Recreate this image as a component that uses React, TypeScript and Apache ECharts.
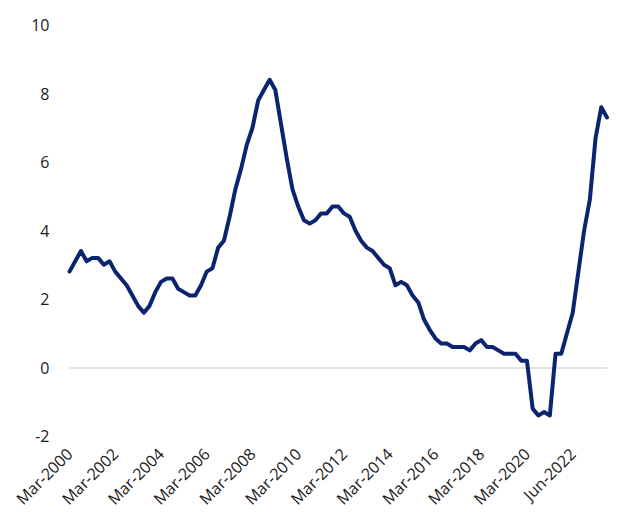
import React, { useEffect, useRef } from "react";
import * as echarts from "echarts";

// Quarterly values, Mar-2000 onwards
const values: number[] = [
  2.8, 3.1, 3.4, 3.1, 3.2, 3.2, 3.0, 3.1, 2.8, 2.6,
  2.4, 2.1, 1.8, 1.6, 1.8, 2.2, 2.5, 2.6, 2.6, 2.3,
  2.2, 2.1, 2.1, 2.4, 2.8, 2.9, 3.5, 3.7, 4.4, 5.2,
  5.8, 6.5, 7.0, 7.8, 8.1, 8.4, 8.1, 7.1, 6.1, 5.2,
  4.7, 4.3, 4.2, 4.3, 4.5, 4.5, 4.7, 4.7, 4.5, 4.4,
  4.0, 3.7, 3.5, 3.4, 3.2, 3.0, 2.9, 2.4, 2.5, 2.4,
  2.1, 1.9, 1.4, 1.1, 0.85, 0.7, 0.7, 0.6, 0.6, 0.6,
  0.5, 0.7, 0.8, 0.6, 0.6, 0.5, 0.4, 0.4, 0.4, 0.2,
  0.2, -1.2, -1.4, -1.3, -1.4, 0.4, 0.4, 1.0, 1.6, 2.8,
  4.0, 4.9, 6.7, 7.6, 7.3,
];

const quarterMonths = ["Mar", "Jun", "Sep", "Dec"];
const startYear = 2000;
const skippedQuarter = "Mar-2022"; // axis labels jump from Mar-2020 to Jun-2022

function buildCategories(count: number): string[] {
  const out: string[] = [];
  let q = 0;
  while (out.length < count) {
    const label = `${quarterMonths[q % 4]}-${startYear + Math.floor(q / 4)}`;
    q++;
    if (label === skippedQuarter) continue;
    out.push(label);
  }
  return out;
}

const categories = buildCategories(values.length);

const yMin = -2;
const yMax = 10;
const yStep = 2;

export default function App() {
  const ref = useRef<HTMLDivElement>(null);

  useEffect(() => {
    if (!ref.current) return;
    const chart = echarts.init(ref.current, undefined, { renderer: "svg" });
    chart.setOption({
      animation: false,
      backgroundColor: "#ffffff",
      grid: { left: 69.5, right: 31, top: 25, bottom: 93, containLabel: false },
      xAxis: {
        type: "category",
        data: categories,
        boundaryGap: false,
        axisLine: { show: false },
        axisTick: { show: false },
        splitLine: { show: false },
        axisLabel: {
          interval: 7,
          rotate: 45,
          margin: 15,
          color: "#1a1a1a",
          fontSize: 16,
          fontFamily: "Open Sans",
        },
      },
      yAxis: {
        type: "value",
        min: yMin,
        max: yMax,
        interval: yStep,
        axisLine: { show: false },
        axisTick: { show: false },
        splitLine: { show: false },
        axisLabel: {
          margin: 20,
          color: "#1a1a1a",
          fontSize: 16,
          fontFamily: "Open Sans",
        },
      },
      series: [
        {
          type: "line",
          data: values,
          symbol: "none",
          lineStyle: { color: "#0a2470", width: 4, join: "round", cap: "round" },
          itemStyle: { color: "#0a2470" },
          z: 3,
          markLine: {
            silent: true,
            symbol: "none",
            label: { show: false },
            lineStyle: { color: "#d9d9d9", width: 1.5, type: "solid" },
            data: [{ yAxis: 0 }],
            z: 1,
          },
        },
      ],
    });
    return () => chart.dispose();
  }, []);

  return (
    <div
      ref={ref}
      style={{ position: "fixed", left: 0, top: 0, width: 638, height: 529 }}
    />
  );
}
